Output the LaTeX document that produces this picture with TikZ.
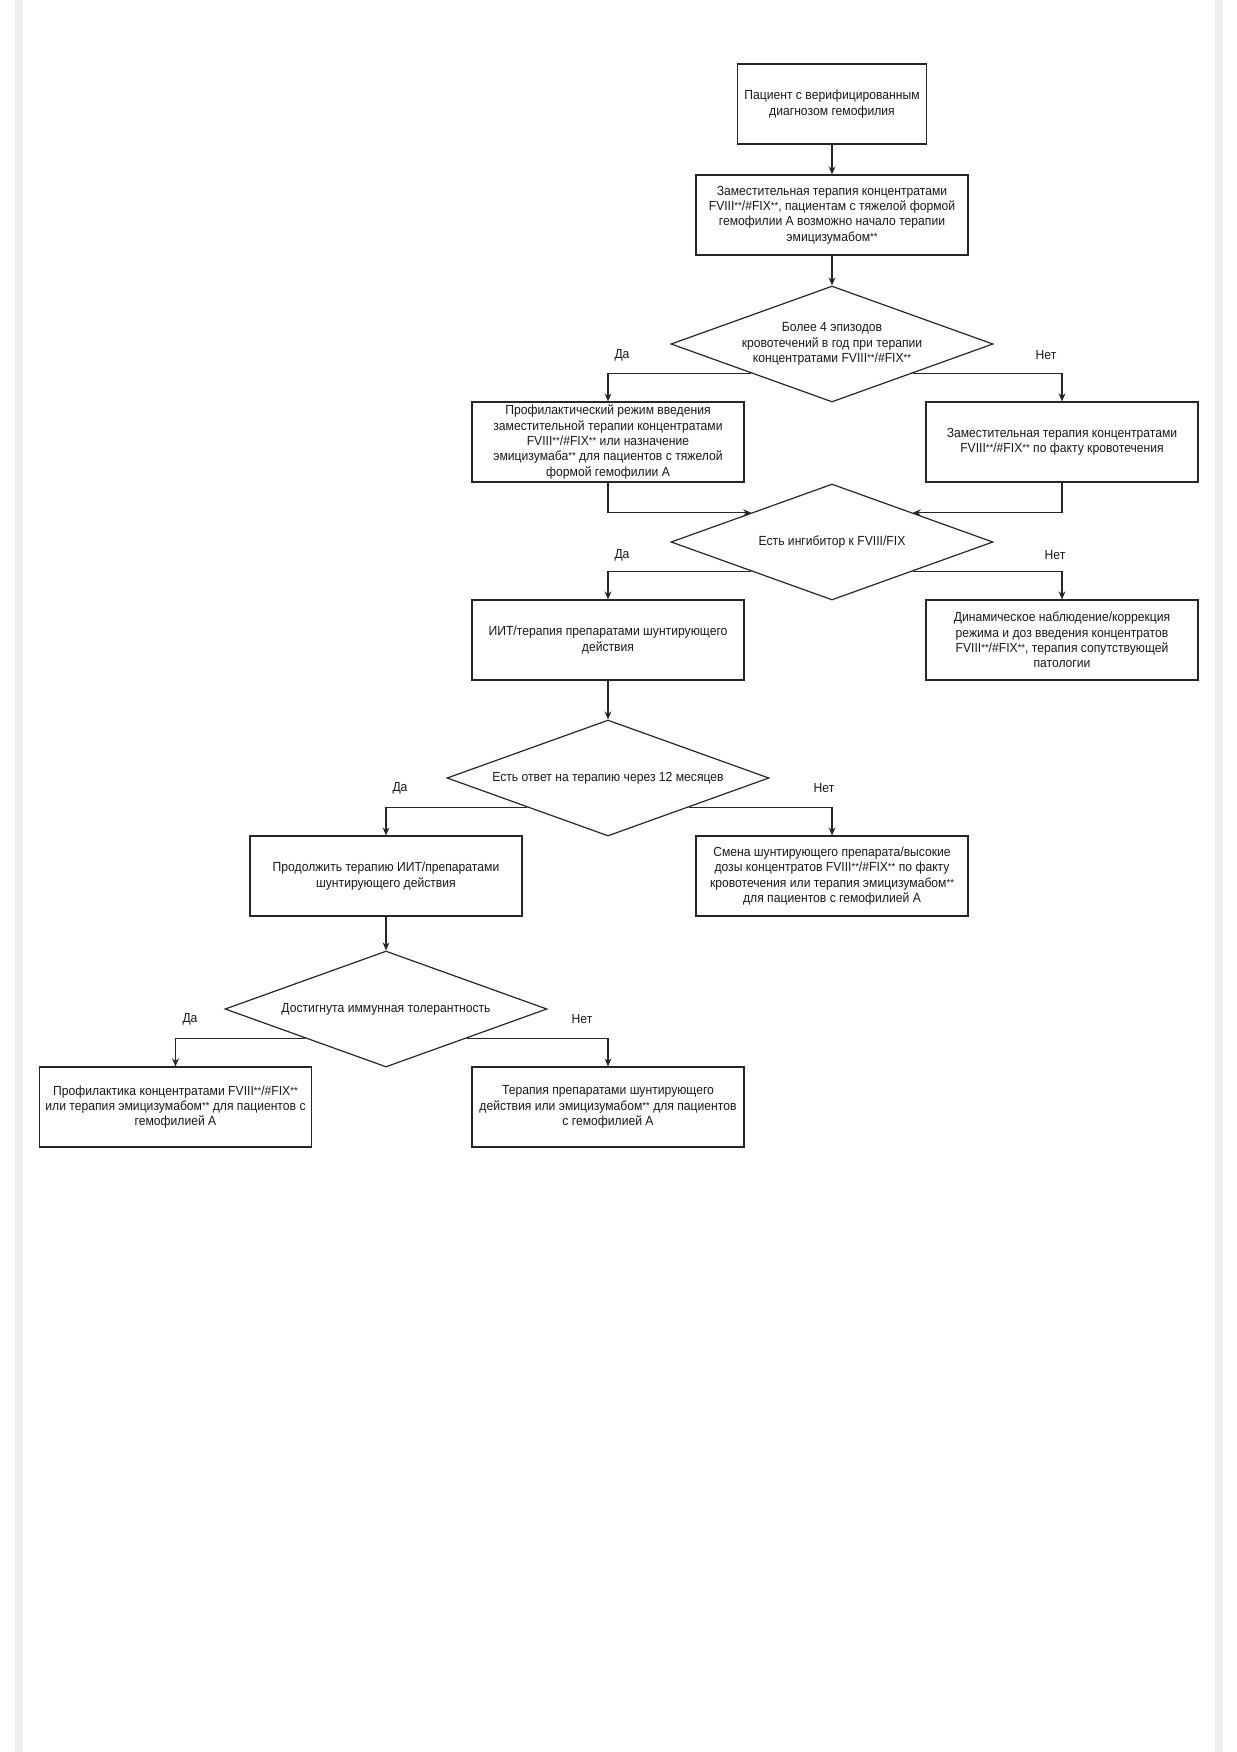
\documentclass[tikz,border=0pt]{standalone}
\usepackage{fontspec}
\setmainfont{Liberation Sans}[FakeStretch=0.92]
\usetikzlibrary{shapes.geometric,arrows.meta}
\newcommand\zz{\raisebox{0.5pt}{\fontsize{5.2}{5.2}\selectfont **}}
\begin{document}
\begin{tikzpicture}[x=0.5pt,y=-0.5pt,
  every node/.style={font=\fontsize{6.6}{7.7}\selectfont, text=black!90},
  box/.style={draw=black!85, line width=0.6pt, align=center, inner sep=0pt,
              minimum width=136pt, minimum height=40pt},
  dia/.style={draw=black!85, line width=0.6pt, diamond, inner sep=0pt,
              minimum width=161pt, minimum height=58pt},
  txt/.style={align=center, inner sep=0pt},
  arr/.style={draw=black!85, line width=0.6pt, -{Stealth[length=4pt,width=3.4pt]}},
  lbl/.style={inner sep=0pt}]
\useasboundingbox (0,0) rectangle (1237,1752);
\fill[gray!14] (15,0) rectangle (23,1752);
\fill[gray!14] (1215,0) rectangle (1223,1752);

\node[box, minimum width=94.5pt] (b1) at (832,104)
  {Пациент с верифицированным\\диагнозом гемофилия};
\node[box] (b2) at (832,215)
  {Заместительная терапия концентратами\\FVIII\zz/\#FIX\zz, пациентам с тяжелой формой\\гемофилии А возможно начало терапии\\эмицизумабом\zz};
\node[dia] (d1) at (832,344) {};
\node[txt] (t1) at (d1.center)
  {Более 4 эпизодов\\кровотечений в год при терапии\\концентратами FVIII\zz/\#FIX\zz};
\node[box] (b3l) at (608,442)
  {Профилактический режим введения\\заместительной терапии концентратами\\FVIII\zz/\#FIX\zz{} или назначение\\эмицизумаба\zz{} для пациентов с тяжелой\\формой гемофилии А};
\node[box] (b3r) at (1062,442)
  {Заместительная терапия концентратами\\FVIII\zz/\#FIX\zz{} по факту кровотечения};
\node[dia] (d2) at (832,542) {};
\node[txt] (t2) at (d2.center) {Есть ингибитор к FVIII/FIX};
\node[box] (b4l) at (608,640)
  {ИИТ/терапия препаратами шунтирующего\\действия};
\node[box] (b4r) at (1062,640)
  {Динамическое наблюдение/коррекция\\режима и доз введения концентратов\\FVIII\zz/\#FIX\zz, терапия сопутствующей\\патологии};
\node[dia] (d3) at (608,778) {};
\node[txt] (t3) at (d3.center) {Есть ответ на терапию через 12 месяцев};
\node[box] (b5l) at (386,876)
  {Продолжить терапию ИИТ/препаратами\\шунтирующего действия};
\node[box] (b5r) at (832,876)
  {Смена шунтирующего препарата/высокие\\дозы концентратов FVIII\zz/\#FIX\zz{} по факту\\кровотечения или терапия эмицизумабом\zz\\для пациентов с гемофилией А};
\node[dia] (d4) at (386,1009) {};
\node[txt] (t4) at (d4.center) {Достигнута иммунная толерантность};
\node[box] (b6l) at (175.5,1107)
  {Профилактика концентратами FVIII\zz/\#FIX\zz\\или терапия эмицизумабом\zz{} для пациентов с\\гемофилией А};
\node[box] (b6r) at (608,1107)
  {Терапия препаратами шунтирующего\\действия или эмицизумабом\zz{} для пациентов\\с гемофилией А};

\draw[arr] (b1.south) -- (b2.north);
\draw[arr] (b2.south) -- (d1.north);
\draw[arr] (d1.south west) -| (b3l.north);
\draw[arr] (d1.south east) -| (b3r.north);
\draw[arr] (b3l.south) |- (d2.north west);
\draw[arr] (b3r.south) |- (d2.north east);
\draw[arr] (d2.south west) -| (b4l.north);
\draw[arr] (d2.south east) -| (b4r.north);
\draw[arr] (b4l.south) -- (d3.north);
\draw[arr] (d3.south west) -| (b5l.north);
\draw[arr] (d3.south east) -| (b5r.north);
\draw[arr] (b5l.south) -- (d4.north);
\draw[arr] (d4.south west) -| (b6l.north);
\draw[arr] (d4.south east) -| (b6r.north);

\node[lbl] (l1a) at (622,355) {Да};
\node[lbl] (l1b) at (1046,355) {Нет};
\node[lbl] (l2a) at (622,555) {Да};
\node[lbl] (l2b) at (1055,555) {Нет};
\node[lbl] (l3a) at (400,788) {Да};
\node[lbl] (l3b) at (824,788) {Нет};
\node[lbl] (l4a) at (190,1019) {Да};
\node[lbl] (l4b) at (582,1019) {Нет};
\end{tikzpicture}
\end{document}
